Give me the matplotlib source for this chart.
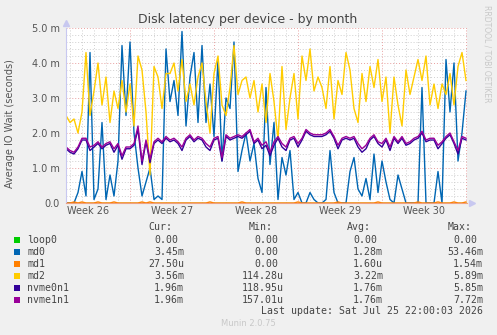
import matplotlib
matplotlib.use("Agg")
import matplotlib.pyplot as plt
from matplotlib.patches import Rectangle
import numpy as np

# samples every 8 hours, values in milliseconds
md0 = [0.0, 0.0, 0.0, 0.3, 0.9, 0.2, 4.3, 0.1, 0.4, 2.3, 0.1, 0.8, 0.2, 1.2, 4.5, 2.5, 4.6, 2.0, 1.0, 0.2, 0.6,
       1.0, 0.1, 0.2, 0.1, 4.4, 2.9, 3.5, 2.5, 4.9, 2.2, 3.6, 4.3, 2.3, 4.5, 2.3, 3.4, 1.9, 4.1, 1.2, 3.0,
       2.7, 4.6, 0.9, 1.5, 2.0, 1.2, 1.7, 0.7, 0.3, 3.3, 1.1, 2.3, 0.1, 1.3, 0.8, 1.5, 0.1, 0.3, 0.0, 0.0, 0.3,
       0.1, 0.0, 0.0, 0.1, 1.5, 0.3, 0.0, 0.0, 0.0, 0.9, 1.3, 0.4, 0.2, 0.7, 0.1, 1.4, 0.3, 1.2, 0.6, 0.1, 0.0,
       0.8, 0.4, 0.0, 0.0, 0.0, 0.0, 3.3, 0.0, 0.0, 0.0, 0.9, 0.0, 4.1, 2.6, 4.0, 1.2, 2.0, 3.2]
md1 = [0.0, 0.0, 0.03, 0.0, 0.03, 0.0, 0.0, 0.0, 0.03, 0.0, 0.0, 0.0, 0.03, 0.0, 0.0, 0.0, 0.0, 0.0, 0.0, 0.03, 0.0,
       0.03, 0.0, 0.0, 0.0, 0.0, 0.0, 0.0, 0.0, 0.0, 0.0, 0.0, 0.0, 0.0, 0.0, 0.0, 0.03, 0.0, 0.0, 0.0, 0.0,
       0.0, 0.0, 0.0, 0.03, 0.0, 0.0, 0.0, 0.0, 0.0, 0.0, 0.0, 0.0, 0.0, 0.0, 0.0, 0.0, 0.0, 0.03, 0.0, 0.0, 0.0,
       0.0, 0.0, 0.0, 0.0, 0.0, 0.0, 0.03, 0.0, 0.0, 0.0, 0.0, 0.0, 0.0, 0.0, 0.0, 0.0, 0.03, 0.0, 0.0, 0.0, 0.0,
       0.0, 0.0, 0.0, 0.0, 0.0, 0.03, 0.0, 0.0, 0.0, 0.0, 0.03, 0.0, 0.0, 0.0, 0.03, 0.0, 0.0, 0.03]
md2 = [2.5, 2.3, 2.4, 2.0, 2.6, 4.3, 2.5, 3.2, 4.0, 2.8, 3.6, 2.3, 3.2, 2.7, 3.5, 2.6, 3.4, 2.2, 4.2, 3.8, 2.6,
       0.8, 3.9, 3.6, 2.7, 3.7, 3.7, 4.0, 3.2, 4.1, 2.9, 3.4, 2.8, 3.6, 4.0, 2.9, 2.0, 3.7, 4.2, 2.8, 2.5,
       3.3, 4.5, 3.1, 3.5, 3.6, 3.0, 3.5, 2.6, 3.4, 2.3, 3.7, 2.9, 1.8, 3.9, 2.1, 3.0, 3.7, 2.4, 4.2, 3.5, 4.4,
       3.2, 3.6, 3.3, 2.7, 3.9, 2.4, 3.5, 3.1, 4.3, 3.8, 2.7, 2.3, 3.7, 2.9, 3.9, 3.3, 4.1, 2.9, 3.6, 2.0, 3.6,
       2.8, 2.2, 3.8, 3.1, 3.6, 4.1, 3.5, 4.2, 2.8, 3.4, 2.7, 3.4, 3.1, 3.7, 2.8, 3.9, 4.3, 3.5]
nvme0n1 = [1.55, 1.45, 1.4, 1.55, 1.8, 1.8, 1.5, 1.6, 1.7, 1.55, 1.65, 1.7, 1.45, 1.65, 1.25, 1.55, 1.55, 1.65, 2.1, 1.1, 1.75,
           1.15, 1.7, 1.8, 1.7, 1.85, 1.75, 1.8, 1.7, 1.5, 1.8, 1.9, 1.75, 1.85, 1.8, 1.6, 1.5, 1.8, 1.85, 1.2, 1.9,
           1.8, 1.85, 1.9, 1.85, 1.95, 2.05, 1.7, 1.8, 1.55, 1.65, 1.35, 1.65, 1.85, 1.6, 1.5, 1.8, 1.85, 1.6, 1.8, 2.05, 1.95,
           1.9, 1.9, 1.9, 1.95, 2.05, 1.85, 1.55, 1.8, 1.85, 1.8, 1.85, 1.6, 1.45, 1.55, 1.8, 1.9, 1.7, 1.6, 1.8, 1.5, 1.85,
           1.7, 1.85, 1.65, 1.7, 1.8, 1.85, 2.0, 1.75, 1.8, 1.8, 1.55, 1.7, 1.85, 1.95, 1.7, 1.4, 1.85, 1.8]
nvme1n1 = [1.6, 1.5, 1.45, 1.6, 1.85, 1.85, 1.6, 1.65, 1.75, 1.6, 1.7, 1.75, 1.55, 1.7, 1.35, 1.6, 1.6, 1.7, 2.2, 1.2, 1.8,
           1.25, 1.75, 1.85, 1.75, 1.9, 1.8, 1.85, 1.75, 1.6, 1.85, 1.95, 1.8, 1.9, 1.85, 1.7, 1.6, 1.85, 1.9, 1.3, 1.95,
           1.85, 1.9, 1.95, 1.9, 2.0, 2.1, 1.75, 1.85, 1.65, 1.75, 1.45, 1.75, 1.9, 1.7, 1.6, 1.85, 1.9, 1.7, 1.85, 2.1, 2.0,
           1.95, 1.95, 1.95, 2.0, 2.1, 1.9, 1.65, 1.85, 1.9, 1.85, 1.9, 1.7, 1.55, 1.65, 1.85, 1.95, 1.75, 1.7, 1.85, 1.6, 1.9,
           1.75, 1.9, 1.7, 1.75, 1.85, 1.9, 2.05, 1.8, 1.85, 1.85, 1.65, 1.75, 1.9, 2.0, 1.75, 1.5, 1.9, 1.85]
loop0 = [0.0] * len(md0)

names = ["loop0", "md0", "md1", "md2", "nvme0n1", "nvme1n1"]
colors = ["#00CC00", "#0066B3", "#FF8000", "#FFCC00", "#330099", "#990099"]
cur = ["0.00", "3.45m", "27.50u", "3.56m", "1.96m", "1.96m"]
mins = ["0.00", "0.00", "0.00", "114.28u", "118.95u", "157.01u"]
avgs = ["0.00", "1.28m", "1.60u", "3.22m", "1.76m", "1.76m"]
maxs = ["0.00", "53.46m", "1.54m", "5.89m", "5.85m", "7.72m"]
weeks = ["Week 26", "Week 27", "Week 28", "Week 29", "Week 30"]

W, H = 497, 335
days = np.arange(len(md0)) / 3.0
xmax = 401 / 12.0


def fx(x):
    return x / W


def fy(y):
    return 1 - y / H


fig = plt.figure(figsize=(W / 100, H / 100), dpi=100, facecolor="#F0F0F0")
ax = fig.add_axes([fx(66), fy(203), 401 / W, 175 / H])
ax.set_facecolor("white")
ax.set_xlim(0, xmax)
ax.set_ylim(0, 5.0)

# grid
for v in np.arange(0.2, 5.01, 0.2):
    major = abs(v - round(v)) < 1e-6
    ax.axhline(v, color="#E8A0A0" if major else "#D0D0D0", lw=0.7,
               ls=(0, (1, 2)), zorder=0)
for d in np.arange(1 / 3, xmax, 1.0):
    major = abs((d - 16 / 3) % 7) < 1e-6
    ax.axvline(d, color="#E8A0A0" if major else "#D0D0D0", lw=0.7,
               ls=(0, (1, 2)), zorder=0)

series = [loop0, md0, md1, md2, nvme0n1, nvme1n1]
for s, c in zip(series, colors):
    ax.plot(days, s, color=c, lw=1.0, zorder=2)

for sp in ["top", "right"]:
    ax.spines[sp].set_visible(False)
ax.spines["left"].set_color("#C8C8F0")
ax.spines["bottom"].set_color("#F0A080")
ax.plot([0], [1.03], marker="^", color="#C8C8F0", ms=5, transform=ax.transAxes, clip_on=False)
ax.plot([1.012], [0], marker=">", color="#C8C8F0", ms=5, transform=ax.transAxes, clip_on=False)

ax.set_yticks([0, 1, 2, 3, 4, 5])
ax.set_yticklabels(["0.0", "1.0 m", "2.0 m", "3.0 m", "4.0 m", "5.0 m"])
ax.tick_params(axis="y", length=0, pad=4.5, labelsize=7, labelcolor="#555555")
ax.set_xticks([11 / 6 + 7 * k for k in range(len(weeks))])
ax.set_xticklabels(weeks)
ax.tick_params(axis="x", length=0, pad=2.5, labelsize=7, labelcolor="#555555")

fig.text(fx(248), fy(19), "Disk latency per device - by month", ha="center", va="center",
         fontsize=9, color="#444444")
fig.text(fx(10), fy(124), "Average IO Wait (seconds)", rotation=90, ha="center", va="center",
         fontsize=7, color="#555555")
fig.text(fx(487), fy(5), "RRDTOOL / TOBI OETIKER", rotation=270, ha="center", va="top",
         fontsize=5.5, color="#C8C8C8")

mono = dict(family="DejaVu Sans Mono", fontsize=7.1, color="#444444", va="center")
cw = 5.9
col_right = [184, 284, 383, 483]
for hdr, r in zip(["Cur:", "Min:", "Avg:", "Max:"], col_right):
    fig.text(fx(r - 2 * cw), fy(227), hdr, ha="right", **mono)

for i, name in enumerate(names):
    y = 240 + 12 * i
    fig.patches.append(Rectangle((fx(14), fy(y + 3)), 6 / W, 6 / H, transform=fig.transFigure,
                                 facecolor=colors[i], edgecolor="none"))
    fig.text(fx(27), fy(y), name, ha="left", **mono)
    for vals, r in zip([cur, mins, avgs, maxs], col_right):
        s = vals[i]
        edge = r if s[-1].isalpha() else r - cw
        fig.text(fx(edge), fy(y), s, ha="right", **mono)

fig.text(fx(483), fy(311), "Last update: Sat Jul 25 22:00:03 2026", ha="right", **mono)
fig.text(fx(248), fy(324), "Munin 2.0.75", ha="center", va="center", fontsize=6, color="#C8C8C8")

fig.savefig("out.png", dpi=100, facecolor=fig.get_facecolor())
